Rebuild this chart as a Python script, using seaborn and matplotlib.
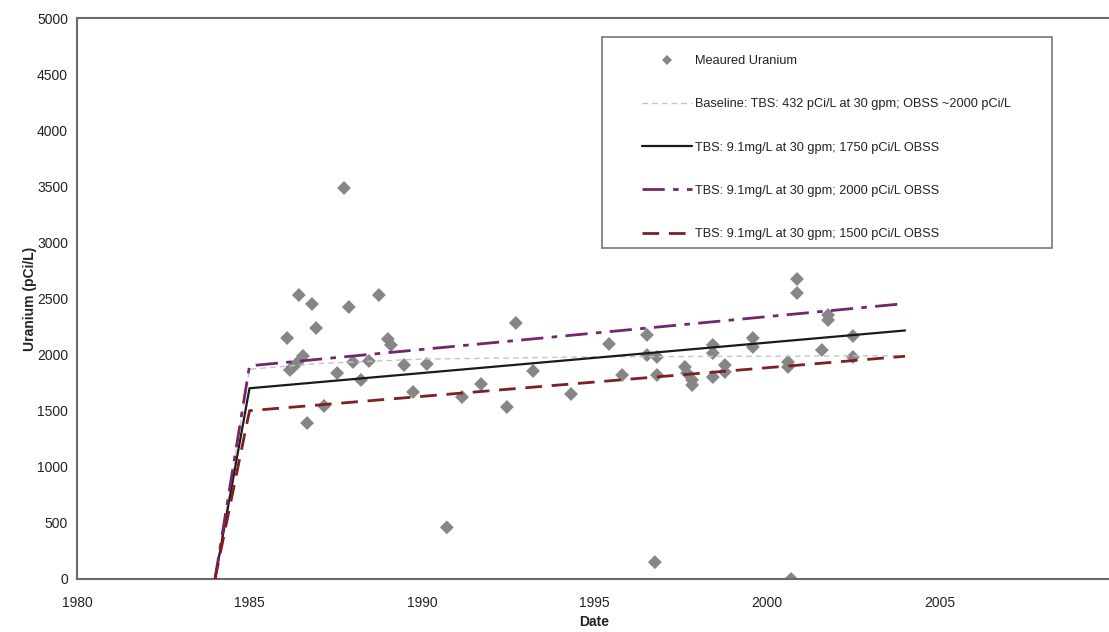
import matplotlib
matplotlib.use("Agg")
import matplotlib.pyplot as plt
import seaborn as sns
import pandas as pd
from matplotlib.lines import Line2D
from matplotlib.patches import Rectangle

# ---- data ----
sample_year = [1986.09, 1986.17, 1986.26, 1986.38, 1986.43, 1986.55, 1986.67, 1986.81, 1986.93,
               1987.16, 1987.54, 1987.74, 1987.88, 1988.00, 1988.23, 1988.46, 1988.75, 1989.01,
               1989.10, 1989.48, 1989.74, 1990.14, 1990.72, 1991.16, 1991.71, 1992.46, 1992.72,
               1993.22, 1994.32, 1995.42, 1995.80, 1996.52, 1996.52, 1996.75, 1996.81, 1996.81,
               1997.62, 1997.68, 1997.83, 1997.83, 1998.43, 1998.43, 1998.43, 1998.78, 1998.78,
               1999.59, 1999.59, 2000.61, 2000.61, 2000.87, 2000.87, 2000.70, 2001.59, 2001.77,
               2001.77, 2002.49, 2002.49]
sample_uranium = [2148, 1863, 1890, 1925, 2531, 1988, 1390, 2451, 2237,
                  1542, 1836, 3485, 2424, 1934, 1774, 1943, 2531, 2139,
                  2086, 1907, 1667, 1916, 460, 1622, 1738, 1533, 2282,
                  1854, 1649, 2095, 1818, 2175, 1996, 150, 1979, 1818,
                  1890, 1836, 1774, 1729, 2086, 2014, 1800, 1907, 1845,
                  2148, 2068, 1934, 1890, 2674, 2549, 0, 2041, 2353,
                  2308, 2166, 1979]

model_year = [1984, 1985, 2004]
tbs_1750 = [0, 1700, 2215]
tbs_2000 = [0, 1900, 2455]
tbs_1500 = [0, 1500, 1985]

baseline_year = [1984, 1985, 1987, 1990, 1995, 2004]
baseline = [0, 1870, 1920, 1960, 1980, 1990]

labels = ["Meaured Uranium",
          "Baseline: TBS: 432 pCi/L at 30 gpm; OBSS ~2000 pCi/L",
          "TBS: 9.1mg/L at 30 gpm; 1750 pCi/L OBSS",
          "TBS: 9.1mg/L at 30 gpm; 2000 pCi/L OBSS",
          "TBS: 9.1mg/L at 30 gpm; 1500 pCi/L OBSS"]

x_ticks = [1980, 1985, 1990, 1995, 2000, 2005]
y_ticks = [0, 500, 1000, 1500, 2000, 2500, 3000, 3500, 4000, 4500, 5000]

# ---- styling ----
sns.set_theme(style="white")
plt.rcParams['font.family'] = ['Liberation Sans', 'DejaVu Sans']

W, H = 1109, 632
fig = plt.figure(figsize=(W / 100, H / 100), dpi=100)
ax = fig.add_axes([77 / W, (H - 579) / H, 1035 / W, 561 / H])

pt_color = "#868686"
c_base = "#c4c4c4"
c_solid = "#1a1a1a"
c_dd = "#73266c"
c_dash = "#7f1f1f"

df_pts = pd.DataFrame({"year": sample_year, "u": sample_uranium})
sns.scatterplot(data=df_pts, x="year", y="u", ax=ax, marker="D", s=50,
                color=pt_color, edgecolor="none", zorder=2)

sns.lineplot(x=baseline_year, y=baseline, ax=ax, color=c_base, lw=1.0,
             zorder=3).lines[-1].set_dashes([4, 3])
sns.lineplot(x=model_year, y=tbs_1750, ax=ax, color=c_solid, lw=1.6, zorder=4)
l_dd = sns.lineplot(x=model_year, y=tbs_2000, ax=ax, color=c_dd, lw=2.0, zorder=4).lines[-1]
l_dd.set_dashes([8, 3, 2, 3])
l_da = sns.lineplot(x=model_year, y=tbs_1500, ax=ax, color=c_dash, lw=2.0, zorder=4).lines[-1]
l_da.set_dashes([6, 3.5])

ax.set_xlim(1980, 2010)
ax.set_ylim(0, 5000)
ax.set_xticks(x_ticks)
ax.set_xticks(range(1980, 2011), minor=True)
ax.set_yticks(y_ticks)
ax.tick_params(axis="both", which="both", direction="out", length=3.5, width=1,
               color="#555555", labelsize=10, labelcolor="#222222", pad=3)
ax.tick_params(axis="x", which="major", pad=9)
ax.set_xlabel("Date", fontsize=10, fontweight="bold", color="#222222", labelpad=3)
ax.set_ylabel("Uranium (pCi/L)", fontsize=10, fontweight="bold", color="#222222")
ax.yaxis.set_label_coords(-40 / 1035, 0.5)
ax.grid(False)
for side in ["left", "bottom", "top"]:
    ax.spines[side].set_color("#6a6a6a")
    ax.spines[side].set_linewidth(1.5)
ax.spines["right"].set_visible(False)

handles = [
    Line2D([], [], marker="D", color=pt_color, linestyle="none", markersize=5.5, markeredgewidth=0),
    Line2D([], [], color=c_base, lw=1.0, dashes=[4, 3]),
    Line2D([], [], color=c_solid, lw=1.6),
    Line2D([], [], color=c_dd, lw=2.0, dashes=[8, 3, 2, 3]),
    Line2D([], [], color=c_dash, lw=2.0, dashes=[6, 3.5]),
]
leg = ax.legend(handles, labels, loc="upper left",
                bbox_to_anchor=(642 / W, 1 - 55 / H), bbox_transform=fig.transFigure,
                fontsize=9.2, frameon=False, labelspacing=2.45,
                handlelength=3.9, handletextpad=0.25, borderpad=0, borderaxespad=0)
for t in leg.get_texts():
    t.set_color("#222222")

# legend frame
fig.patches.append(Rectangle((602 / W, 1 - 248 / H), (1052 - 602) / W, (248 - 37) / H,
                             transform=fig.transFigure, fill=False,
                             edgecolor="#777777", linewidth=1.2, zorder=5))

fig.savefig("out.png", dpi=100)
